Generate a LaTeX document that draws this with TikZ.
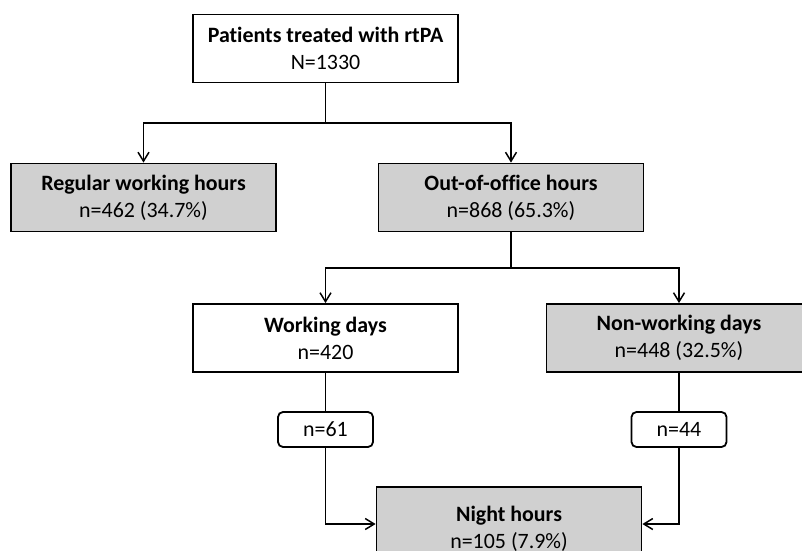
\documentclass[tikz,border=0pt]{standalone}
\usepackage{fontspec}
\setmainfont{Carlito}[Ligatures=NoCommon]
\usetikzlibrary{arrows.meta, positioning}
\definecolor{boxgrey}{RGB}{208,208,208}

\begin{document}
\begin{tikzpicture}[
  x=1bp, y=-1bp,
  box/.style={draw, line width=1.8pt, fill=white, minimum width=265bp, minimum height=68bp, align=center, font=\fontsize{22}{27}\selectfont, inner sep=2pt},
  grey/.style={box, fill=boxgrey},
  cnt/.style={draw, line width=1.8pt, rounded corners=5pt, fill=white, minimum width=95bp, minimum height=35bp, font=\fontsize{22}{25}\selectfont},
  arr/.style={-{Straight Barb[length=9pt, width=11pt]}, line width=1.5pt},
  lin/.style={line width=1.5pt}
]
\useasboundingbox (0,0) rectangle (802,551);

\node[box] (patients) at (325.5,48.5) {\textbf{Patients treated with rtPA}\\N=1330};

\node[grey] (regular) at (143.5,197.5) {\textbf{Regular working hours}\\n=462 (34.7\%)};
\node[grey] (office) at (511,197.5) {\textbf{Out-of-office hours}\\n=868 (65.3\%)};

\node[box] (workdays) at (325.5,338) {\textbf{Working days}\\n=420};
\node[grey] (nonwork) at (679,338) {\textbf{Non-working days}\\n=448 (32.5\%)};

\node[cnt] (n61) at (325.5,429.5) {n=61};
\node[cnt] (n44) at (679,429.5) {n=44};

\node[grey, minimum height=84bp] (night) at (509,529) {\textbf{Night hours}\\n=105 (7.9\%)};

\coordinate (split1) at (325.5,123);
\coordinate (split2) at (511,268);

\draw[lin] (patients) -- (split1);
\draw[arr] (split1) -| (regular);
\draw[arr] (split1) -| (office);

\draw[lin] (office) -- (split2);
\draw[arr] (split2) -| (workdays);
\draw[arr] (split2) -| (nonwork);

\draw[lin] (workdays) -- (n61);
\draw[lin] (nonwork) -- (n44);
\draw[arr] (n61) |- ([yshift=5pt]night.west);
\draw[arr] (n44) |- ([yshift=5pt]night.east);
\end{tikzpicture}
\end{document}
